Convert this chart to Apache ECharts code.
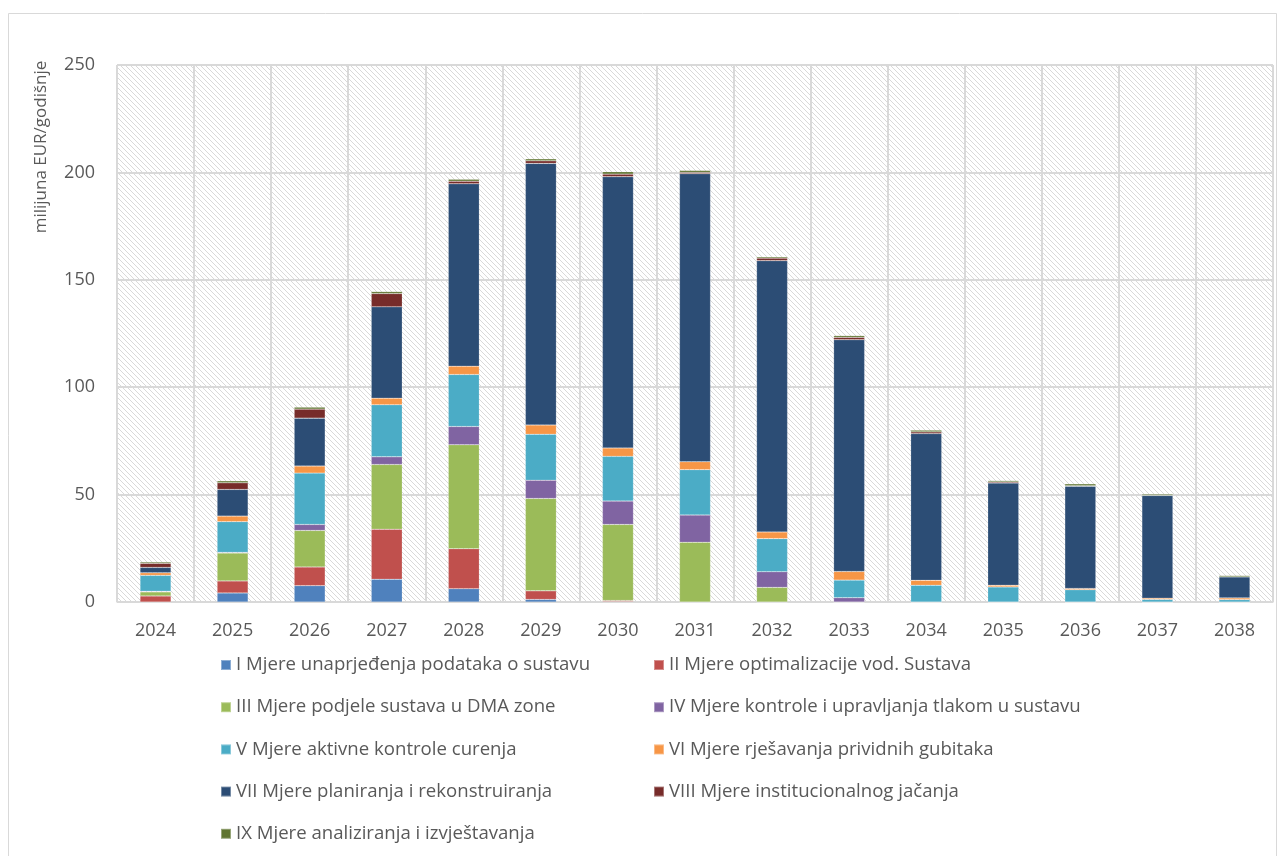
<!DOCTYPE html>
<html>
<head>
<meta charset="utf-8">
<script src="https://cdn.jsdelivr.net/npm/echarts@6/dist/echarts.min.js"></script>
<style>
  html, body { margin: 0; padding: 0; background: #ffffff; }
  #chart { width: 1279px; height: 856px; }
</style>
</head>
<body>
<div id="chart"></div>
<script>
// Godine plana
const years = ['2024','2025','2026','2027','2028','2029','2030','2031','2032','2033','2034','2035','2036','2037','2038'];

// Troškovi po skupinama mjera (milijuna EUR godišnje)
const mjereI    = [0,   4.2, 7.6, 10.6, 6.2, 1.2, 0.2, 0,    0,    0,    0,    0,    0,    0,    0];
const mjereII   = [2.8, 5.6, 8.7, 23.3, 18.6, 4.0, 0.5, 0,   0,    0,    0,    0,    0,    0,    0];
const mjereIII  = [1.9, 13.0, 17.0, 30.1, 48.4, 43.0, 35.4, 27.8, 6.8, 0,  0,    0,    0,    0,    0];
const mjereIV   = [0.3, 0.3, 2.8, 3.6, 8.5, 8.5, 10.9, 12.7, 7.3, 2.0,  0,    0,    0,    0,    0];
const mjereV    = [7.4, 14.3, 23.9, 24.2, 24.2, 21.4, 20.8, 21.1, 15.4, 8.2, 7.8, 7.0, 5.7, 1.2, 1.1];
const mjereVI   = [1.2, 2.6, 3.3, 3.1, 3.9, 4.3, 3.9, 3.7, 3.1, 4.0, 2.3, 0.8, 0.6, 0.6, 0.8];
const mjereVII  = [2.5, 12.4, 22.3, 42.5, 84.9, 121.8, 126.3, 134.1, 126.3, 107.9, 68.3, 47.6, 47.6, 47.8, 9.8];
const mjereVIII = [1.9, 3.1, 4.2, 6.2, 1.2, 1.2, 1.2, 0.6, 1.2, 1.1, 0.8, 0.5, 0.2, 0, 0];
const mjereIX   = [0.6, 0.9, 0.9, 0.9, 0.9, 0.9, 1.1, 0.9, 0.6, 0.8, 0.8, 0.6, 0.9, 0.6, 0.6];

const yTicks = [0, 50, 100, 150, 200, 250];

const seriesDefs = [
  { name: 'I Mjere unaprjeđenja podataka o sustavu', data: mjereI, color: '#4F81BD' },
  { name: 'II Mjere optimalizacije vod. Sustava', data: mjereII, color: '#C0504D' },
  { name: 'III Mjere podjele sustava u DMA zone', data: mjereIII, color: '#9BBB59' },
  { name: 'IV Mjere kontrole i upravljanja tlakom u sustavu', data: mjereIV, color: '#8064A2' },
  { name: 'V Mjere aktivne kontrole curenja', data: mjereV, color: '#4BACC6' },
  { name: 'VI Mjere rješavanja prividnih gubitaka', data: mjereVI, color: '#F79646' },
  { name: 'VII Mjere planiranja i rekonstruiranja', data: mjereVII, color: '#2C4D75' },
  { name: 'VIII Mjere institucionalnog jačanja', data: mjereVIII, color: '#772C2A' },
  { name: 'IX Mjere analiziranja i izvještavanja', data: mjereIX, color: '#5F7530' }
];

// Diagonal hatch fill for the plot background
function hatchPattern() {
  const s = 5;
  const c = document.createElement('canvas');
  c.width = s; c.height = s;
  const g = c.getContext('2d');
  g.fillStyle = '#ffffff';
  g.fillRect(0, 0, s, s);
  g.strokeStyle = '#d9d9d9';
  g.lineWidth = 1;
  g.beginPath();
  g.moveTo(-1, -1); g.lineTo(s + 1, s + 1);
  g.moveTo(-1, s - 1); g.lineTo(1, s + 1);
  g.moveTo(s - 1, -1); g.lineTo(s + 1, 1);
  g.stroke();
  return { image: c, repeat: 'repeat' };
}

const font = '"Open Sans", "Noto Sans", sans-serif';
const textColor = '#595959';

const chart = echarts.init(document.getElementById('chart'), null, { renderer: 'canvas' });

const legendText = { color: textColor, fontSize: 18.6, fontFamily: font, lineHeight: 22 };
const names = seriesDefs.map(d => d.name);

chart.setOption({
  animation: false,
  backgroundColor: '#ffffff',
  textStyle: { fontFamily: font },
  graphic: [
    {
      type: 'rect',
      shape: { x: 8.5, y: 13.5, width: 1268, height: 860 },
      style: { fill: 'none', stroke: '#d9d9d9', lineWidth: 1 },
      silent: true
    },
    {
      type: 'text',
      x: 41, y: 147,
      rotation: Math.PI / 2,
      style: {
        text: 'milijuna EUR/godišnje',
        fill: textColor,
        fontSize: 17,
        fontFamily: font,
        align: 'center',
        verticalAlign: 'middle'
      }
    }
  ],
  grid: {
    left: 117, right: 6, top: 65, bottom: 254,
    show: true,
    backgroundColor: hatchPattern(),
    borderWidth: 0
  },
  legend: [
    {
      data: [names[0], names[2], names[4], names[6], names[8]],
      orient: 'vertical',
      left: 215, top: 649,
      itemWidth: 10, itemHeight: 10,
      itemGap: 20.2,
      icon: 'rect',
      textStyle: legendText
    },
    {
      data: [names[1], names[3], names[5], names[7]],
      orient: 'vertical',
      left: 648, top: 649,
      itemWidth: 10, itemHeight: 10,
      itemGap: 20.2,
      icon: 'rect',
      textStyle: legendText
    }
  ],
  xAxis: {
    type: 'category',
    data: years,
    axisLine: { show: true, lineStyle: { color: '#d9d9d9', width: 1.5 } },
    axisTick: { show: false },
    axisLabel: { color: textColor, fontSize: 18, fontFamily: font, margin: 20 },
    splitLine: { show: true, lineStyle: { color: '#d9d9d9', width: 2 } }
  },
  yAxis: {
    type: 'value',
    min: yTicks[0],
    max: yTicks[yTicks.length - 1],
    interval: yTicks[1] - yTicks[0],
    axisLine: { show: false },
    axisTick: { show: false },
    axisLabel: { color: textColor, fontSize: 18, fontFamily: font, margin: 22 },
    splitLine: { show: true, lineStyle: { color: '#d9d9d9', width: 2 } }
  },
  series: seriesDefs.map(d => ({
    name: d.name,
    type: 'bar',
    stack: 'ukupno',
    data: d.data,
    barWidth: 31,
    itemStyle: { color: d.color, borderColor: 'rgba(255,255,255,0.35)', borderWidth: 0.5 },
    emphasis: { disabled: true }
  }))
});
</script>
</body>
</html>
